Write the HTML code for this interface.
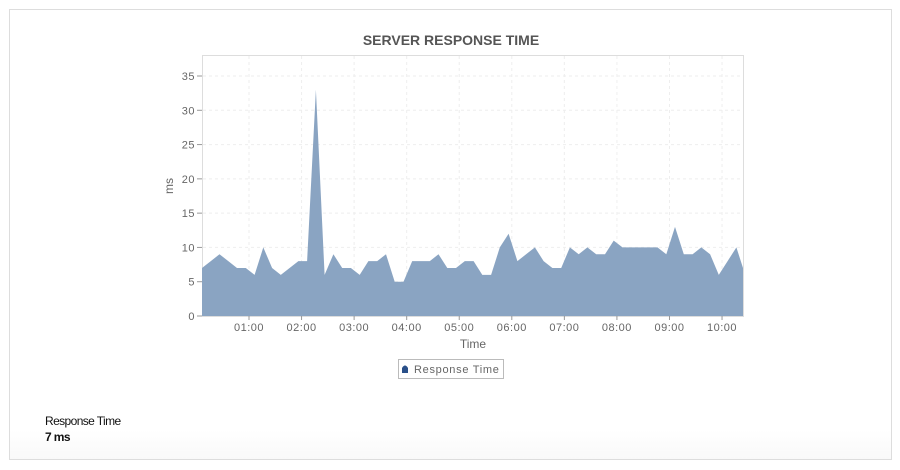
<!DOCTYPE html>
<html><head><meta charset="utf-8"><style>
body{margin:0;background:#fff;width:900px;height:470px;overflow:hidden;font-family:"Liberation Sans",sans-serif}
.box{position:absolute;left:9px;top:9px;width:881px;height:449px;border:1px solid #ddd;background:linear-gradient(#fff 420px,#f9f9f9)}
</style></head><body>
<div class="box"></div>
<svg id="s" width="900" height="470" style="position:absolute;left:0;top:0" font-family="Liberation Sans, sans-serif">
<text x="451" y="45" text-anchor="middle" font-size="14" font-weight="bold" fill="#555">SERVER RESPONSE TIME</text>
<rect x="202.5" y="55.5" width="541" height="261" fill="#fff" stroke="#ddd"/>
<g id="grid" stroke="#eee" stroke-dasharray="3,3"></g>
<path id="area" fill="#8aa4c2" stroke="none"/>
<g id="ax" font-size="11" fill="#666" letter-spacing="0.5"></g>
<text x="473" y="348" text-anchor="middle" font-size="12" fill="#666">Time</text>
<text transform="translate(173,186) rotate(-90)" text-anchor="middle" font-size="12" fill="#666">ms</text>
<rect x="398.5" y="359.5" width="105" height="19" fill="#fff" stroke="#bbb"/>
<path d="M402 373 L402 368 Q405 363 408 368 L408 373 Z" fill="#2a5089"/>
<text x="414" y="373" font-size="11" fill="#666" letter-spacing="0.7">Response Time</text>
<text x="45" y="425" font-size="12" fill="#111" letter-spacing="-0.6">Response Time</text>
<text x="45" y="441" font-size="12" font-weight="bold" fill="#111" letter-spacing="-0.6">7 ms</text>
</svg>
<script>
var v=[7,8,9,8,7,7,6,10,7,6,7,8,8,33,6,9,7,7,6,8,8,9,5,5,8,8,8,9,7,7,8,8,6,6,10,12,8,9,10,8,7,7,10,9,10,9,9,11,10,10,10,10,10,9,13,9,9,10,9,6,8,10,7];
var sx=8.76,y0=316,k=6.857;
var d="M202 316";
v.forEach(function(a,i){var x=Math.min(202+i*sx,743);d+=" L"+x.toFixed(1)+" "+(y0-a*k).toFixed(1);});
d+=" L743 316 Z";
document.getElementById('area').setAttribute('d',d);
var g=document.getElementById('grid'),ax=document.getElementById('ax'),h="",t="";
for(var i=0;i<=7;i++){var y=y0-i*5*k;if(i>0)h+='<line x1="203" x2="743" y1="'+y+'" y2="'+y+'"/>';
t+='<text x="195" y="'+(y+4)+'" text-anchor="end">'+(i*5)+'</text><line x1="197" x2="202" y1="'+y+'" y2="'+y+'" stroke="#999"/>';}
for(var j=1;j<=10;j++){var x=249+(j-1)*52.56;h+='<line x1="'+x+'" x2="'+x+'" y1="56" y2="316"/>';
t+='<text x="'+x+'" y="331" text-anchor="middle">'+(j<10?'0':'')+j+':00</text><line x1="'+x+'" x2="'+x+'" y1="316" y2="320" stroke="#999"/>';}
g.innerHTML=h;ax.innerHTML=t;
</script>
</body></html>
